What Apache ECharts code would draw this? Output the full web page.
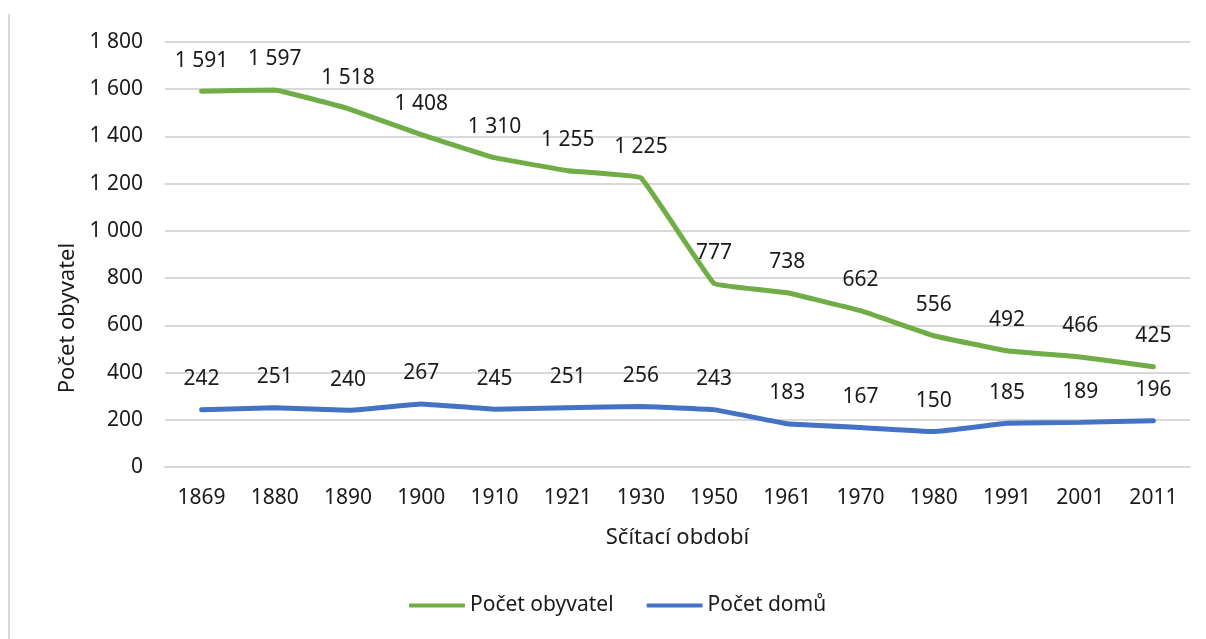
<!DOCTYPE html>
<html><head><meta charset="utf-8">
<script src="https://cdn.jsdelivr.net/npm/echarts@6/dist/echarts.min.js"></script>
<style>html,body{margin:0;padding:0;background:#fff}#c{width:1206px;height:639px}</style>
</head><body><div id="c"></div>
<script>
const categories = ['1869','1880','1890','1900','1910','1921','1930','1950','1961','1970','1980','1991','2001','2011'];
const obyvatel = [1591,1597,1518,1408,1310,1255,1225,777,738,662,556,492,466,425];
const domu = [242,251,240,267,245,251,256,243,183,167,150,185,189,196];
const seriesNames = ['Počet obyvatel','Počet domů'];
const xTitle = 'Sčítací období';
const yTitle = 'Počet obyvatel';

const FONT = 'Noto Sans';
const fmt = v => { const s = String(v); return s.length > 3 ? s.slice(0, s.length-3) + ' ' + s.slice(-3) : s; };
const chart = echarts.init(document.getElementById('c'));
const labelCfg = {show:true, position:'top', distance:20, color:'#1a1a1a', fontFamily:FONT, fontSize:21, formatter:p=>fmt(p.value)};
chart.setOption({
  animation:false,
  textStyle:{fontFamily:FONT},
  grid:{left:165, right:16, top:42, bottom:172},
  legend:{bottom:18, left:404, itemWidth:56, itemHeight:4, itemGap:33, icon:'roundRect',
    textStyle:{fontFamily:FONT, fontSize:21, color:'#1a1a1a'}},
  xAxis:{type:'category', data:categories, boundaryGap:true,
    axisLine:{lineStyle:{color:'#d9d9d9', width:2}}, axisTick:{show:false},
    axisLabel:{color:'#1a1a1a', fontSize:21, fontFamily:FONT, margin:21},
    name:xTitle, nameLocation:'middle', nameGap:60, nameTextStyle:{color:'#1a1a1a', fontSize:22, fontFamily:FONT}},
  yAxis:{type:'value', min:0, max:1800, interval:200,
    axisLine:{show:false}, axisTick:{show:false},
    splitLine:{lineStyle:{color:'#d9d9d9', width:2}},
    axisLabel:{color:'#1a1a1a', fontSize:21, fontFamily:FONT, margin:22, formatter:v=>fmt(v)}},
  graphic:[
    {type:'line', shape:{x1:9,y1:14,x2:9,y2:639}, style:{stroke:'#d9d9d9', lineWidth:2}},
    {type:'text', x:68, y:318, rotation:Math.PI/2, style:{text:yTitle, fontFamily:FONT, fontSize:22, fill:'#1a1a1a', textAlign:'center', textVerticalAlign:'middle'}}
  ],
  series:[
    {name:seriesNames[0], type:'line', data:obyvatel, smooth:0.06, symbol:'circle', symbolSize:0, showSymbol:true, color:'#70AD47',
      itemStyle:{color:'#70AD47'}, lineStyle:{width:5, color:'#70AD47', cap:'round'}, label:labelCfg},
    {name:seriesNames[1], type:'line', data:domu, smooth:0.06, symbol:'circle', symbolSize:0, showSymbol:true, color:'#4472C4',
      itemStyle:{color:'#4472C4'}, lineStyle:{width:5, color:'#4472C4', cap:'round'}, label:labelCfg}
  ]
});
</script></body></html>
